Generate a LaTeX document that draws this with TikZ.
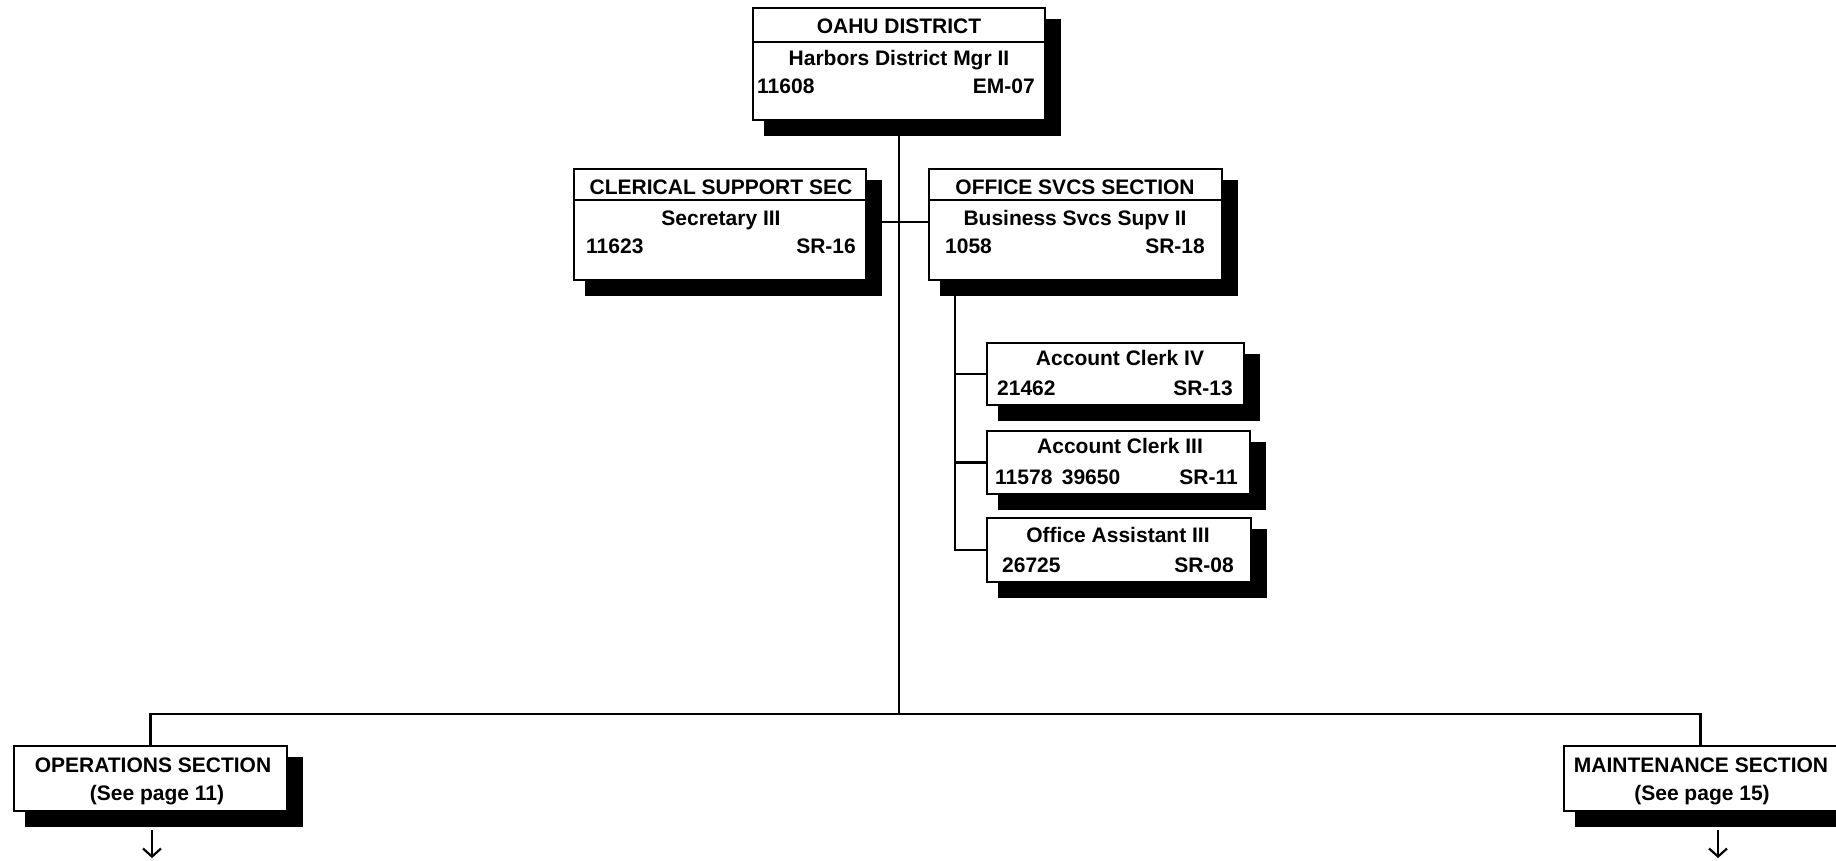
\documentclass[tikz,border=0pt]{standalone}
\usepackage{fontspec}
\setmainfont{Liberation Sans}
\usetikzlibrary{arrows.meta,calc}
\tikzset{
  obox/.style={draw=black, line width=2.5pt, fill=white, inner sep=0pt, outer sep=0pt, rectangle},
  conn/.style={draw=black, line width=2.4pt},
  divline/.style={draw=black, line width=2.4pt},
  txt/.style={inner sep=0pt, font=\fontsize{21}{25}\selectfont\bfseries, anchor=base},
  txtl/.style={txt, anchor=base west},
  txtr/.style={txt, anchor=base east},
  downarr/.style={draw=black, line width=2.2pt, -{Straight Barb[length=8pt,width=18pt,line width=2.2pt]}},
}
\newcommand\orgbox[5]{%
  \fill[black] ({#2+11},{#3+11}) rectangle ({#4+16},{#5+16});
  \node[obox, minimum width={(#4-#2)*1pt}, minimum height={(#5-#3)*1pt}] (#1) at ({(#2+#4)/2},{(#3+#5)/2}) {};
}
\begin{document}
\begin{tikzpicture}[x=1pt,y=-1pt]
\useasboundingbox (0,0) rectangle (1836,860);

\coordinate (bus) at (899,714);
\coordinate (otop) at (955,280);

% boxes
\orgbox{oahu}{753}{8}{1045}{120}
\orgbox{cler}{574}{169}{866}{280}
\orgbox{office}{929}{169}{1222}{280}
\orgbox{acl4}{987}{343}{1244}{405}
\orgbox{acl3}{987}{431}{1250}{494}
\orgbox{oa3}{987}{518}{1251}{582}
\orgbox{ops}{14}{746}{287}{811}
\orgbox{maint}{1564}{746}{1837}{811}

% connectors
\draw[conn] (oahu.south) -- (bus);
\draw[conn] (ops.north) |- (bus) -| (maint.north);
\draw[conn] (cler.east |- 0,222) -- (office.west |- 0,222);
\draw[conn] (otop) |- (oa3.west);
\draw[conn] (otop |- 0,374) -- (acl4.west |- 0,374);
\draw[conn] (otop |- acl3.west) -- (acl3.west);

% dividers
\draw[divline] (oahu.west |- 0,42) -- (oahu.east |- 0,42);
\draw[divline] (cler.west |- 0,200) -- (cler.east |- 0,200);
\draw[divline] (office.west |- 0,200) -- (office.east |- 0,200);

% box outlines above the connectors
\foreach \n in {oahu,cler,office,acl4,acl3,oa3,ops,maint}{
  \draw[line width=2.5pt] (\n.north west) rectangle (\n.south east);
}

% texts
\node[txt] (t1) at (899,33) {OAHU DISTRICT};
\node[txt] (t2) at (899,65) {Harbors District Mgr II};
\node[txtl] (t3) at (757,93) {11608};
\node[txtr] (t4) at (1035,93) {EM-07};

\node[txt] (c1) at (721,194) {CLERICAL SUPPORT SEC};
\node[txt] (c2) at (721,225) {Secretary III};
\node[txtl] (c3) at (586,253) {11623};
\node[txtr] (c4) at (856,253) {SR-16};

\node[txt] (o1) at (1075,194) {OFFICE SVCS SECTION};
\node[txt] (o2) at (1075,225) {Business Svcs Supv II};
\node[txtl] (o3) at (945,253) {1058};
\node[txtr] (o4) at (1205,253) {SR-18};

\node[txt] (a1) at (1120,365) {Account Clerk IV};
\node[txtl] (a2) at (997,395) {21462};
\node[txtr] (a3) at (1233,395) {SR-13};

\node[txt] (b1) at (1120,453) {Account Clerk III};
\node[txtl] (b2) at (995,484) {11578\hspace{0.45em}39650};
\node[txtr] (b3) at (1238,484) {SR-11};

\node[txt] (d1) at (1118,542) {Office Assistant III};
\node[txtl] (d2) at (1002,572) {26725};
\node[txtr] (d3) at (1234,572) {SR-08};

\node[txt] (p1) at (153,772) {OPERATIONS SECTION};
\node[txt] (p2) at (157,800) {(See page 11)};

\node[txt] (m1) at (1701,772) {MAINTENANCE SECTION};
\node[txt] (m2) at (1702,800) {(See page 15)};

% continuation arrows
\draw[downarr] ([yshift=-19pt,xshift=1.5pt]ops.south) -- ++(0,28);
\draw[downarr] ([yshift=-19pt,xshift=17.5pt]maint.south) -- ++(0,28);
\end{tikzpicture}
\end{document}
